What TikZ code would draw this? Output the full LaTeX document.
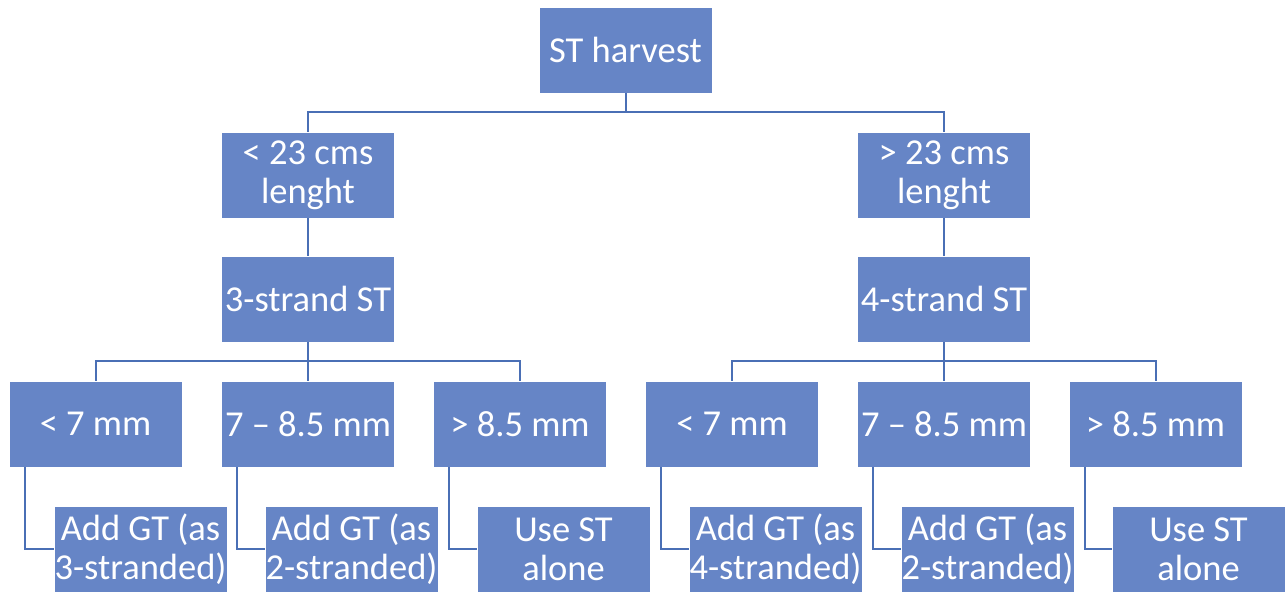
\documentclass[tikz,border=0pt]{standalone}
\usepackage{fontspec}
\setmainfont{Carlito}
\definecolor{boxfill}{HTML}{6685C6}
\definecolor{linecol}{HTML}{4A6FB5}
\begin{document}
\begin{tikzpicture}[x=1pt,y=-1pt,
  box/.style={fill=boxfill,draw=white,line width=0.8pt,minimum width=173pt,minimum height=86pt,
    inner sep=0pt,align=center,text=white,font=\fontsize{36.5}{39}\selectfont},
  conn/.style={draw=linecol,line width=2pt}]
\useasboundingbox (0,0) rectangle (1285,592);
\node[box] (top) at (625.5,50) {ST harvest};
\node[box] (l2a) at (308,175) {< 23 cms\\lenght};
\node[box] (l2b) at (944,175) {> 23 cms\\lenght};
\node[box] (l3a) at (308,299) {3-strand ST};
\node[box] (l3b) at (944,299) {4-strand ST};
\node[box] (a1) at (95.5,424) {< 7 mm};
\node[box] (a2) at (308,424) {7 – 8.5 mm};
\node[box] (a3) at (520,424) {> 8.5 mm};
\node[box] (b1) at (732,424) {< 7 mm};
\node[box] (b2) at (944,424) {7 – 8.5 mm};
\node[box] (b3) at (1155.5,424) {> 8.5 mm};
\node[box] (la1) at (140.5,549) {Add GT (as\\3-stranded)};
\node[box] (la2) at (351.5,549) {Add GT (as\\2-stranded)};
\node[box] (la3) at (563.5,549) {Use ST\\alone};
\node[box] (lb1) at (775.5,549) {Add GT (as\\4-stranded)};
\node[box] (lb2) at (987.5,549) {Add GT (as\\2-stranded)};
\node[box] (lb3) at (1198.5,549) {Use ST\\alone};
% top level
\draw[conn] (top.south) -- ++(0,19) -| (l2a.north);
\draw[conn] (top.south) -- ++(0,19) -| (l2b.north);
\draw[conn] (l2a) -- (l3a);
\draw[conn] (l2b) -- (l3b);
\foreach \p/\c in {l3a/a1,l3a/a2,l3a/a3,l3b/b1,l3b/b2,l3b/b3}{
  \draw[conn] (\p.south) -- ++(0,19) -| (\c.north);
}
\foreach \p/\c in {a1/la1,a2/la2,a3/la3,b1/lb1,b2/lb2,b3/lb3}{
  \draw[conn] ([xshift=16pt]\p.south west) |- (\c.west);
}
\end{tikzpicture}
\end{document}
